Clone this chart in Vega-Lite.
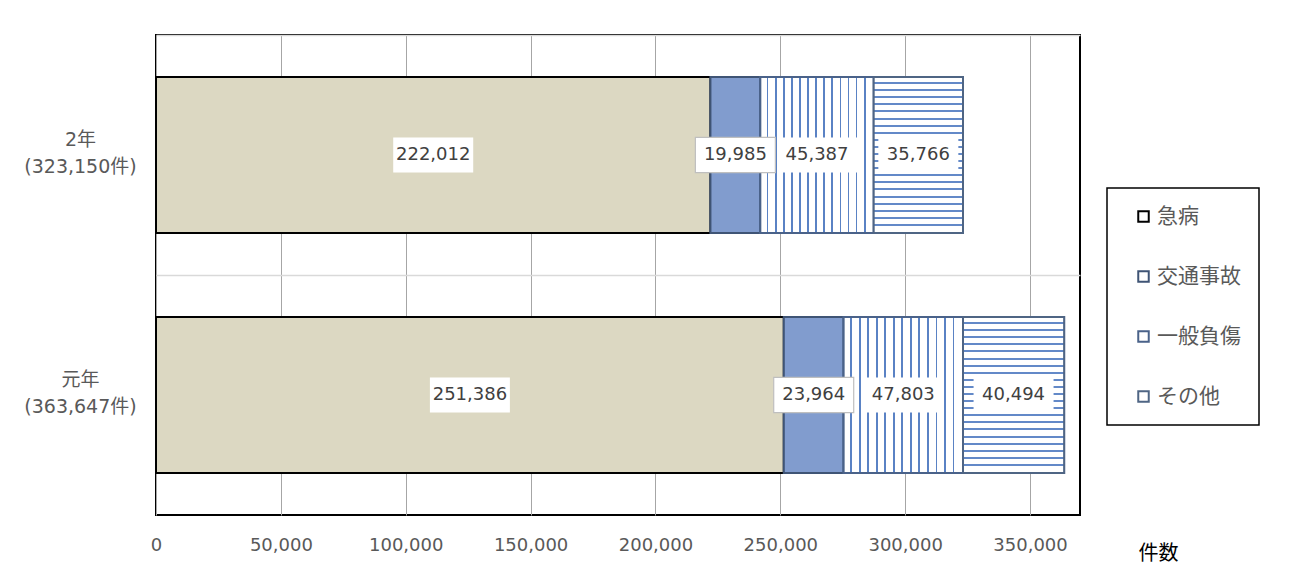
{
  "$schema": "https://vega.github.io/schema/vega-lite/v6.json",
  "width": 924,
  "height": 480,
  "autosize": {"type": "none"},
  "padding": {"left": 156, "top": 35, "right": 215, "bottom": 59},
  "background": "white",
  "data": {
    "values": [
      {"year": "2年\n(323,150件)", "type": "急病", "count": 222012},
      {"year": "2年\n(323,150件)", "type": "交通事故", "count": 19985},
      {"year": "2年\n(323,150件)", "type": "一般負傷", "count": 45387},
      {"year": "2年\n(323,150件)", "type": "その他", "count": 35766},
      {"year": "元年\n(363,647件)", "type": "急病", "count": 251386},
      {"year": "元年\n(363,647件)", "type": "交通事故", "count": 23964},
      {"year": "元年\n(363,647件)", "type": "一般負傷", "count": 47803},
      {"year": "元年\n(363,647件)", "type": "その他", "count": 40494}
    ]
  },
  "transform": [
    {"calculate": "indexof(['急病','交通事故','一般負傷','その他'], datum.type)", "as": "order"},
    {"stack": "count", "groupby": ["year"], "sort": [{"field": "order", "order": "ascending"}], "as": ["x0", "x1"]},
    {"calculate": "(datum.x0 + datum.x1) / 2", "as": "mid"}
  ],
  "encoding": {
    "y": {
      "field": "year",
      "type": "nominal",
      "sort": ["2年\n(323,150件)", "元年\n(363,647件)"],
      "scale": {"paddingInner": 0, "paddingOuter": 0},
      "axis": {
        "title": null,
        "domain": false,
        "ticks": false,
        "grid": true,
        "gridColor": "#d9d9d9",
        "gridWidth": 1.5,
        "bandPosition": 0,
        "labelOffset": -15,
        "labelAlign": "center",
        "labelBaseline": "middle",
        "labelPadding": 76,
        "labelFontSize": 19,
        "labelColor": "#595959",
        "labelLineHeight": 27,
        "labelExpr": "split(datum.label, '\\n')"
      }
    }
  },
  "layer": [
    {
      "mark": {"type": "bar", "height": {"band": 0.65}, "strokeWidth": 2},
      "encoding": {
        "x": {
          "field": "x0",
          "type": "quantitative",
          "title": "件数",
          "scale": {"domain": [0, 370000], "nice": false},
          "axis": {
            "values": [0, 50000, 100000, 150000, 200000, 250000, 300000, 350000],
            "format": ",d",
            "grid": true,
            "gridColor": "#a6a6a6",
            "gridWidth": 1,
            "domain": false,
            "ticks": false,
            "labelFlush": false,
            "labelFontSize": 18,
            "labelColor": "#595959",
            "labelPadding": 21,
            "titleX": 1002,
            "titleY": 38,
            "titleAlign": "center",
            "titleBaseline": "middle",
            "titleFontSize": 20,
            "titleFontWeight": "normal",
            "titleColor": "#000000"
          }
        },
        "x2": {"field": "x1"},
        "fill": {
          "condition": [
            {"test": "datum.type === '急病'", "value": "#dcd8c2"},
            {"test": "datum.type === '交通事故'", "value": "#819cce"}
          ],
          "value": "#ffffff"
        },
        "stroke": {
          "field": "type",
          "type": "nominal",
          "scale": {
            "domain": ["急病", "交通事故", "一般負傷", "その他"],
            "range": ["#000000", "#3f5475", "#4a6289", "#4f6584"]
          },
          "legend": {
            "encode": {
              "symbols": {
                "update": {
                  "fill": {
                    "condition": {"test": "datum.value === '交通事故'", "value": "#6f8fc8"},
                    "value": "#ffffff"
                  }
                }
              }
            }
          }
        }
      }
    },
    {
      "transform": [{"filter": "datum.type === '一般負傷'"}],
      "mark": {
        "type": "bar",
        "height": {"band": 0.65},
        "stroke": "#4a6289",
        "strokeWidth": 2,
        "fill": {
          "gradient": "linear", "x1": 0, "y1": 0, "x2": 1, "y2": 0,
          "stops": [
            {"offset": 0, "color": "#ffffff"}, {"offset": 0.0557, "color": "#ffffff"}, {"offset": 0.0557, "color": "#5a82c4"}, {"offset": 0.0714, "color": "#5a82c4"},
            {"offset": 0.0714, "color": "#ffffff"}, {"offset": 0.1271, "color": "#ffffff"}, {"offset": 0.1271, "color": "#5a82c4"}, {"offset": 0.1429, "color": "#5a82c4"},
            {"offset": 0.1429, "color": "#ffffff"}, {"offset": 0.1986, "color": "#ffffff"}, {"offset": 0.1986, "color": "#5a82c4"}, {"offset": 0.2143, "color": "#5a82c4"},
            {"offset": 0.2143, "color": "#ffffff"}, {"offset": 0.2700, "color": "#ffffff"}, {"offset": 0.2700, "color": "#5a82c4"}, {"offset": 0.2857, "color": "#5a82c4"},
            {"offset": 0.2857, "color": "#ffffff"}, {"offset": 0.3414, "color": "#ffffff"}, {"offset": 0.3414, "color": "#5a82c4"}, {"offset": 0.3571, "color": "#5a82c4"},
            {"offset": 0.3571, "color": "#ffffff"}, {"offset": 0.4129, "color": "#ffffff"}, {"offset": 0.4129, "color": "#5a82c4"}, {"offset": 0.4286, "color": "#5a82c4"},
            {"offset": 0.4286, "color": "#ffffff"}, {"offset": 0.4843, "color": "#ffffff"}, {"offset": 0.4843, "color": "#5a82c4"}, {"offset": 0.5000, "color": "#5a82c4"},
            {"offset": 0.5000, "color": "#ffffff"}, {"offset": 0.5557, "color": "#ffffff"}, {"offset": 0.5557, "color": "#5a82c4"}, {"offset": 0.5714, "color": "#5a82c4"},
            {"offset": 0.5714, "color": "#ffffff"}, {"offset": 0.6271, "color": "#ffffff"}, {"offset": 0.6271, "color": "#5a82c4"}, {"offset": 0.6429, "color": "#5a82c4"},
            {"offset": 0.6429, "color": "#ffffff"}, {"offset": 0.6986, "color": "#ffffff"}, {"offset": 0.6986, "color": "#5a82c4"}, {"offset": 0.7143, "color": "#5a82c4"},
            {"offset": 0.7143, "color": "#ffffff"}, {"offset": 0.7700, "color": "#ffffff"}, {"offset": 0.7700, "color": "#5a82c4"}, {"offset": 0.7857, "color": "#5a82c4"},
            {"offset": 0.7857, "color": "#ffffff"}, {"offset": 0.8414, "color": "#ffffff"}, {"offset": 0.8414, "color": "#5a82c4"}, {"offset": 0.8571, "color": "#5a82c4"},
            {"offset": 0.8571, "color": "#ffffff"}, {"offset": 0.9129, "color": "#ffffff"}, {"offset": 0.9129, "color": "#5a82c4"}, {"offset": 0.9286, "color": "#5a82c4"},
            {"offset": 0.9286, "color": "#ffffff"}, {"offset": 1, "color": "#ffffff"}
          ]
        }
      },
      "encoding": {
        "x": {"field": "x0", "type": "quantitative", "title": "件数"},
        "x2": {"field": "x1"}
      }
    },
    {
      "transform": [{"filter": "datum.type === 'その他'"}],
      "mark": {
        "type": "bar",
        "height": {"band": 0.65},
        "stroke": "#4f6584",
        "strokeWidth": 2,
        "fill": {
          "gradient": "linear", "x1": 0, "y1": 0, "x2": 0, "y2": 1,
          "stops": [
            {"offset": 0, "color": "#ffffff"}, {"offset": 0.0327, "color": "#ffffff"}, {"offset": 0.0327, "color": "#6389c8"}, {"offset": 0.0455, "color": "#6389c8"},
            {"offset": 0.0455, "color": "#ffffff"}, {"offset": 0.0782, "color": "#ffffff"}, {"offset": 0.0782, "color": "#6389c8"}, {"offset": 0.0909, "color": "#6389c8"},
            {"offset": 0.0909, "color": "#ffffff"}, {"offset": 0.1236, "color": "#ffffff"}, {"offset": 0.1236, "color": "#6389c8"}, {"offset": 0.1364, "color": "#6389c8"},
            {"offset": 0.1364, "color": "#ffffff"}, {"offset": 0.1691, "color": "#ffffff"}, {"offset": 0.1691, "color": "#6389c8"}, {"offset": 0.1818, "color": "#6389c8"},
            {"offset": 0.1818, "color": "#ffffff"}, {"offset": 0.2145, "color": "#ffffff"}, {"offset": 0.2145, "color": "#6389c8"}, {"offset": 0.2273, "color": "#6389c8"},
            {"offset": 0.2273, "color": "#ffffff"}, {"offset": 0.2600, "color": "#ffffff"}, {"offset": 0.2600, "color": "#6389c8"}, {"offset": 0.2727, "color": "#6389c8"},
            {"offset": 0.2727, "color": "#ffffff"}, {"offset": 0.3055, "color": "#ffffff"}, {"offset": 0.3055, "color": "#6389c8"}, {"offset": 0.3182, "color": "#6389c8"},
            {"offset": 0.3182, "color": "#ffffff"}, {"offset": 0.3509, "color": "#ffffff"}, {"offset": 0.3509, "color": "#6389c8"}, {"offset": 0.3636, "color": "#6389c8"},
            {"offset": 0.3636, "color": "#ffffff"}, {"offset": 0.3964, "color": "#ffffff"}, {"offset": 0.3964, "color": "#6389c8"}, {"offset": 0.4091, "color": "#6389c8"},
            {"offset": 0.4091, "color": "#ffffff"}, {"offset": 0.4418, "color": "#ffffff"}, {"offset": 0.4418, "color": "#6389c8"}, {"offset": 0.4545, "color": "#6389c8"},
            {"offset": 0.4545, "color": "#ffffff"}, {"offset": 0.4873, "color": "#ffffff"}, {"offset": 0.4873, "color": "#6389c8"}, {"offset": 0.5000, "color": "#6389c8"},
            {"offset": 0.5000, "color": "#ffffff"}, {"offset": 0.5327, "color": "#ffffff"}, {"offset": 0.5327, "color": "#6389c8"}, {"offset": 0.5455, "color": "#6389c8"},
            {"offset": 0.5455, "color": "#ffffff"}, {"offset": 0.5782, "color": "#ffffff"}, {"offset": 0.5782, "color": "#6389c8"}, {"offset": 0.5909, "color": "#6389c8"},
            {"offset": 0.5909, "color": "#ffffff"}, {"offset": 0.6236, "color": "#ffffff"}, {"offset": 0.6236, "color": "#6389c8"}, {"offset": 0.6364, "color": "#6389c8"},
            {"offset": 0.6364, "color": "#ffffff"}, {"offset": 0.6691, "color": "#ffffff"}, {"offset": 0.6691, "color": "#6389c8"}, {"offset": 0.6818, "color": "#6389c8"},
            {"offset": 0.6818, "color": "#ffffff"}, {"offset": 0.7145, "color": "#ffffff"}, {"offset": 0.7145, "color": "#6389c8"}, {"offset": 0.7273, "color": "#6389c8"},
            {"offset": 0.7273, "color": "#ffffff"}, {"offset": 0.7600, "color": "#ffffff"}, {"offset": 0.7600, "color": "#6389c8"}, {"offset": 0.7727, "color": "#6389c8"},
            {"offset": 0.7727, "color": "#ffffff"}, {"offset": 0.8055, "color": "#ffffff"}, {"offset": 0.8055, "color": "#6389c8"}, {"offset": 0.8182, "color": "#6389c8"},
            {"offset": 0.8182, "color": "#ffffff"}, {"offset": 0.8509, "color": "#ffffff"}, {"offset": 0.8509, "color": "#6389c8"}, {"offset": 0.8636, "color": "#6389c8"},
            {"offset": 0.8636, "color": "#ffffff"}, {"offset": 0.8964, "color": "#ffffff"}, {"offset": 0.8964, "color": "#6389c8"}, {"offset": 0.9091, "color": "#6389c8"},
            {"offset": 0.9091, "color": "#ffffff"}, {"offset": 0.9418, "color": "#ffffff"}, {"offset": 0.9418, "color": "#6389c8"}, {"offset": 0.9545, "color": "#6389c8"},
            {"offset": 0.9545, "color": "#ffffff"}, {"offset": 1, "color": "#ffffff"}
          ]
        }
      },
      "encoding": {
        "x": {"field": "x0", "type": "quantitative", "title": "件数"},
        "x2": {"field": "x1"}
      }
    },
    {
      "mark": {
        "type": "point",
        "shape": "M-1,-0.44H1V0.44H-1Z",
        "size": 6400,
        "filled": true,
        "fill": "#ffffff",
        "opacity": 1,
        "fillOpacity": 1,
        "strokeWidth": 1.2
      },
      "encoding": {
        "x": {"field": "mid", "type": "quantitative", "title": "件数"},
        "stroke": {
          "condition": {"test": "datum.type === '交通事故'", "value": "#bfbfbf"},
          "value": "transparent"
        }
      }
    },
    {
      "mark": {"type": "text", "fontSize": 18, "color": "#404040"},
      "encoding": {
        "x": {"field": "mid", "type": "quantitative", "title": "件数"},
        "text": {"field": "count", "type": "quantitative", "format": ",d"}
      }
    }
  ],
  "config": {
    "font": "'DejaVu Sans', 'Noto Sans CJK JP', sans-serif",
    "view": {"stroke": "#000000", "strokeWidth": 2},
    "legend": {
      "orient": "none",
      "legendX": 951,
      "legendY": 153,
      "title": null,
      "strokeColor": "#000000",
      "strokeWidth": 1.5,
      "padding": 18,
      "symbolOffset": 8,
      "labelFontSize": 21,
      "labelColor": "#595959",
      "labelOffset": 3,
      "symbolType": "square",
      "symbolSize": 110,
      "symbolStrokeWidth": 2,
      "rowPadding": 38
    }
  }
}
